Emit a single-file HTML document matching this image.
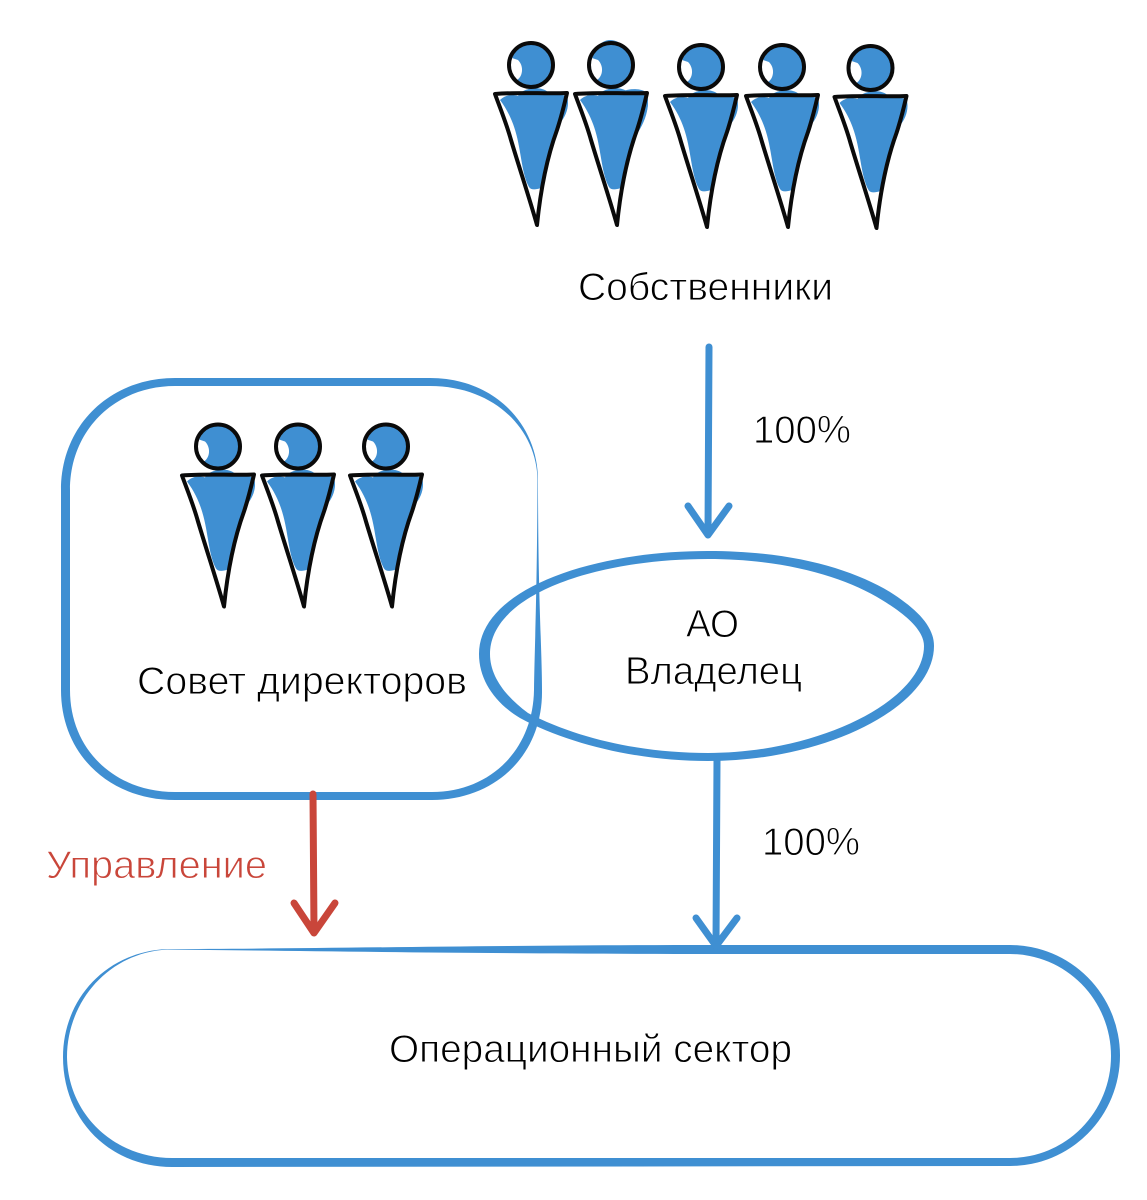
<!DOCTYPE html>
<html lang="ru">
<head>
<meta charset="utf-8">
<title>Диаграмма</title>
<style>
html,body{margin:0;padding:0;background:#fff}
svg{display:block}
text{font-family:"Liberation Sans","DejaVu Sans",sans-serif;font-size:39px;stroke:#fff;stroke-width:.9px;paint-order:normal}
</style>
</head>
<body>
<svg xmlns="http://www.w3.org/2000/svg" width="1147" height="1200" viewBox="0 0 1147 1200">
<defs>
<g id="p">
  <circle cx="532" cy="65" r="21" fill="#3f8fd2"/>
  <path d="M509 57 L518 60 C524 66 523 76 517 80 C512 78 507 68 509 57Z" fill="#fff"/>
  <path d="M537 85 C544 84 549 79 551 74 L553 78 L544 87Z" fill="#fff"/>
  <path d="M500 100 C505 95 512 94 518 96 C522 88 540 85 548 92 L567 96 C570 106 566 116 560 123 C553 142 547 165 541 188 C535 190 531 190 529 187 C525 180 523 170 521 158 C518 140 515 120 500 100Z" fill="#3f8fd2"/>
  <circle cx="531" cy="65" r="22" fill="none" stroke="#0a0a0a" stroke-width="4"/>
  <path d="M495 94 C520 92 545 94 567 93 C564 106 561 118 557 130 C549 152 541 185 537 225 C530 200 520 170 511 140 C506 122 500 108 495 94Z" fill="none" stroke="#0a0a0a" stroke-width="4" stroke-linejoin="round"/>
</g>
</defs>

<path d="M620 92 C630 88 642 88 647 93 C650 107 646 120 637 134 L630 110Z" fill="#3f8fd2"/>
<path d="M600 44 C606 39 612 39 618 42 L610 50Z" fill="#3f8fd2"/>
<use href="#p"/>
<use href="#p" x="80"/>
<use href="#p" x="170" y="2"/>
<use href="#p" x="251" y="2"/>
<use href="#p" x="339.500" y="3"/>
<use href="#p" x="-313" y="381.500"/>
<use href="#p" x="-233" y="381.500"/>
<use href="#p" x="-145" y="381.500"/>

<!-- Совет директоров box -->
<path fill="#3f8fd2" fill-rule="evenodd" d="M538 480 C538 425 495 378 430 378 L175 378 C110 378 61 425 61 490 L61 690 C61 755 110 800 175 800 L432 800 C495 800 543 755 542 690 C542 650 538 600 538 480 Z
M537.500 480 C537 600 534.500 650 534 690 C533 750 490 792 432 792 L175 792 C115 792 70 750 70 690 L70 490 C70 430 115 386 175 386 L430 386 C495 386 537 430 537.500 480 Z"/>

<!-- АО Владелец ellipse -->
<path fill="#3f8fd2" fill-rule="evenodd" d="M479 654 C479 590 590 551 708 551 C790 551 850 568 890 592 C915 608 934 625 934 646 C934 705 830 761 708 761 C640 761 570 745 520 718 C495 703 479 680 479 654 Z
M490 654 C490 676 505 696 528 713 C580 740 645 753 708 753 C820 753 924 700 924 646 C924 630 905 614 882 600 C845 577 785 559 708 559 C595 559 490 595 490 654 Z"/>
<path d="M830 571 C855 580 875 590 890 600" fill="none" stroke="#3f8fd2" stroke-width="6" stroke-linecap="round"/>

<!-- Операционный сектор -->
<path fill="#3f8fd2" fill-rule="evenodd" d="M167 949 C105 952 63 1000 63 1057 C63 1120 110 1167 172 1167 L1010 1166 A110 110.500 0 0 0 1010 945 L716 945 C500 945 300 949 167 949 Z
M167 949.500 C300 951 500 954 716 954 L1010 954 A101 102 0 0 1 1010 1158 L172 1158 C115 1158 68 1115 67 1057 C67 1003 107 953 167 949.500 Z"/>

<!-- Arrows -->
<g fill="none" stroke="#3f8fd2" stroke-width="7" stroke-linecap="round" stroke-linejoin="round">
  <path d="M709 347 L708 534"/>
  <path d="M688 506 L708 535 L729 506"/>
  <path d="M717 760 L716 945"/>
  <path d="M696 918 L716 946 L737 918"/>
</g>
<g fill="none" stroke="#c9463a" stroke-width="7" stroke-linecap="round" stroke-linejoin="round">
  <path d="M313 794 L314 932"/>
  <path d="M294 903 L314 933 L335 903"/>
</g>

<!-- Labels -->
<text x="578" y="300" textLength="255" lengthAdjust="spacingAndGlyphs">Собственники</text>
<text x="753" y="443" textLength="98" lengthAdjust="spacingAndGlyphs">100%</text>
<text x="137" y="694" textLength="330" lengthAdjust="spacingAndGlyphs">Совет директоров</text>
<text x="686" y="637" textLength="53" lengthAdjust="spacingAndGlyphs">АО</text>
<text x="625" y="684" textLength="177" lengthAdjust="spacingAndGlyphs">Владелец</text>
<text x="762" y="855" textLength="98" lengthAdjust="spacingAndGlyphs">100%</text>
<text x="46" y="878" textLength="221" lengthAdjust="spacingAndGlyphs" fill="#c9463a">Управление</text>
<text x="389" y="1062" textLength="403" lengthAdjust="spacingAndGlyphs">Операционный сектор</text>
</svg>
</body>
</html>
